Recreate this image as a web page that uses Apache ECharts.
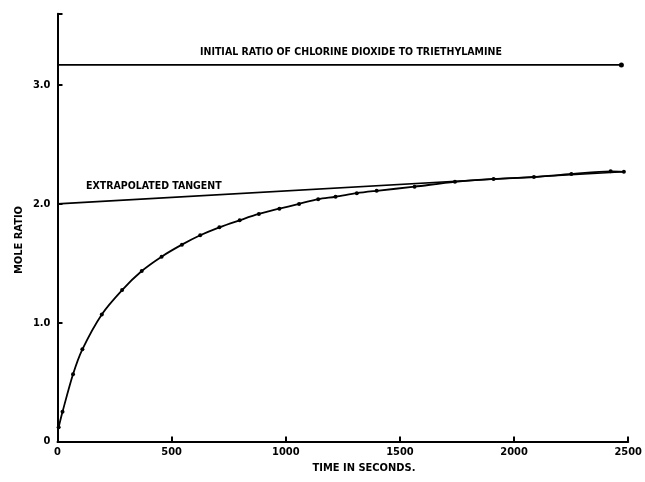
<!DOCTYPE html>
<html>
<head>
<meta charset="utf-8">
<script src="https://cdn.jsdelivr.net/npm/echarts@6/dist/echarts.min.js"></script>
<style>html,body{margin:0;padding:0;background:#fff}#c{width:645px;height:482px}</style>
</head>
<body>
<div id="c"></div>
<script>
// Data
var timeSec = [5, 22, 68, 109, 194, 283, 369, 456, 545, 625, 709, 798, 882, 972, 1058, 1142, 1218, 1311, 1398, 1564, 1741, 1910, 2087, 2251, 2423, 2481];
var moleRatio = [0.12, 0.25, 0.566, 0.776, 1.07, 1.275, 1.435, 1.556, 1.657, 1.736, 1.803, 1.862, 1.915, 1.96, 2.0, 2.04, 2.06, 2.09, 2.11, 2.145, 2.186, 2.21, 2.226, 2.252, 2.274, 2.27];
var tangentX = [0, 2480];
var tangentY = [2.0, 2.27];
var initialX = [0, 2470];
var initialY = [3.17, 3.17];
var xTicks = [0, 500, 1000, 1500, 2000, 2500];
var yTicks = [0, 1, 2, 3];

var FONT = "'Liberation Sans Narrow', 'DejaVu Sans Condensed', 'Liberation Sans', sans-serif";

var curve = timeSec.map(function (t, i) { return [t, moleRatio[i]]; });
var tangent = tangentX.map(function (t, i) { return [t, tangentY[i]]; });
var initial = initialX.map(function (t, i) {
  return { value: [t, initialY[i]], symbol: i === initialX.length - 1 ? 'circle' : 'none', symbolSize: 5 };
});

var chart = echarts.init(document.getElementById('c'), null, { renderer: 'canvas' });
chart.setOption({
  animation: false,
  backgroundColor: '#fff',
  grid: { left: 57.5, right: 13, top: 13.8, bottom: 40.5, containLabel: false },
  xAxis: {
    type: 'value', min: 0, max: 2500, interval: 500,
    axisLine: { show: true, lineStyle: { color: '#000', width: 2 } },
    axisTick: { show: true, inside: true, length: 5, lineStyle: { color: '#000', width: 2 } },
    splitLine: { show: false },
    axisLabel: {
      color: '#000', fontFamily: FONT, fontWeight: 'bold', fontSize: 11, margin: 5,
      formatter: function (v) { return xTicks.indexOf(v) >= 0 ? String(v) : ''; }
    }
  },
  yAxis: {
    type: 'value', min: 0, max: 3.6, interval: 1,
    axisLine: { show: true, lineStyle: { color: '#000', width: 2 } },
    axisTick: { show: true, inside: true, length: 5, lineStyle: { color: '#000', width: 2 } },
    splitLine: { show: false },
    axisLabel: {
      color: '#000', fontFamily: FONT, fontWeight: 'bold', fontSize: 11, margin: 7,
      formatter: function (v) {
        if (yTicks.indexOf(v) < 0) return '';
        return v === 0 ? '0' : v.toFixed(1);
      }
    }
  },
  series: [
    {
      type: 'line', data: curve, smooth: 0.3, symbol: 'circle', symbolSize: 4,
      lineStyle: { color: '#000', width: 1.8 }, itemStyle: { color: '#000' }
    },
    {
      type: 'line', data: tangent, symbol: 'none',
      lineStyle: { color: '#000', width: 1.6 }
    },
    {
      type: 'line', data: initial,
      lineStyle: { color: '#000', width: 1.6 }, itemStyle: { color: '#000' }
    }
  ],
  graphic: [
    { type: 'text', left: 200, top: 47, style: { text: 'INITIAL RATIO OF CHLORINE DIOXIDE TO TRIETHYLAMINE', fill: '#000', font: 'bold 10.5px ' + FONT } },
    { type: 'text', left: 86, top: 181, style: { text: 'EXTRAPOLATED TANGENT', fill: '#000', font: 'bold 10.5px ' + FONT } },
    { type: 'text', x: 364, y: 468, style: { text: 'TIME IN SECONDS.', fill: '#000', font: 'bold 11px ' + FONT, align: 'center', verticalAlign: 'middle' } },
    { type: 'text', x: 19, y: 240, rotation: Math.PI / 2, style: { text: 'MOLE RATIO', fill: '#000', font: 'bold 11px ' + FONT, align: 'center', verticalAlign: 'middle' } }
  ]
});
</script>
</body>
</html>
